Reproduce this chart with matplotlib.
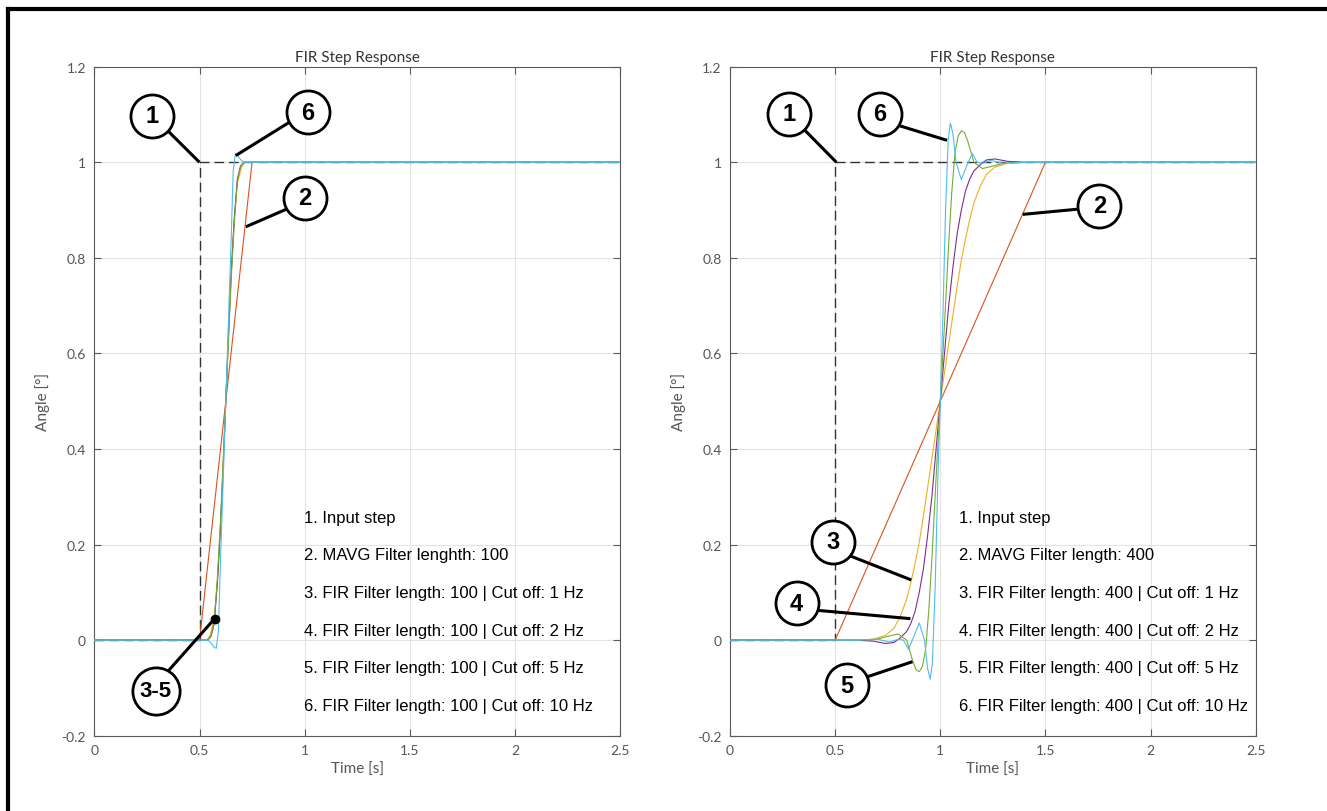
import matplotlib
matplotlib.use("Agg")
import matplotlib.pyplot as plt
from matplotlib.lines import Line2D

# ---- data ----
step_t = [0, 0.5, 0.5, 2.5]
step_y = [0, 0, 1, 1]

# left panel: filter length 100
mavg100_t = [0, 0.5, 0.75, 2.5]
mavg100_y = [0, 0, 1, 1]
fir100_1hz_t = [0, 0.5, 0.535, 0.55, 0.57, 0.585, 0.6, 0.61, 0.625, 0.64, 0.65, 0.665, 0.68, 0.7, 0.715, 2.5]
fir100_1hz_y = [0, 0, 0.0, 0.01, 0.045, 0.12, 0.23, 0.33, 0.5, 0.67, 0.77, 0.88, 0.955, 0.99, 1.0, 1.0]
fir100_2hz_t = [0, 0.5, 0.54, 0.555, 0.57, 0.585, 0.6, 0.61, 0.625, 0.64, 0.65, 0.665, 0.68, 0.695, 0.71, 2.5]
fir100_2hz_y = [0, 0, 0.0, 0.008, 0.035, 0.12, 0.24, 0.34, 0.5, 0.66, 0.76, 0.88, 0.965, 0.992, 1.0, 1.0]
fir100_5hz_t = [0, 0.5, 0.54, 0.555, 0.57, 0.585, 0.6, 0.61, 0.625, 0.64, 0.65, 0.665, 0.68, 0.695, 0.71, 2.5]
fir100_5hz_y = [0, 0, 0.0, 0.01, 0.04, 0.13, 0.25, 0.35, 0.5, 0.65, 0.75, 0.87, 0.96, 0.99, 1.0, 1.0]
fir100_10hz_t = [0, 0.5, 0.54, 0.555, 0.57, 0.58, 0.59, 0.6, 0.61, 0.625, 0.64, 0.65, 0.66, 0.67, 0.68, 0.695, 0.71, 2.5]
fir100_10hz_y = [0, 0, 0.0, -0.006, -0.015, -0.017, 0.02, 0.17, 0.3, 0.5, 0.7, 0.83, 0.98, 1.017, 1.015, 1.006, 1.0, 1.0]

# right panel: filter length 400
mavg400_t = [0, 0.5, 1.5, 2.5]
mavg400_y = [0, 0, 1, 1]
fir400_1hz_t = [0, 0.6, 0.68, 0.74, 0.78, 0.81, 0.84, 0.86, 0.88, 0.9, 0.92, 0.94, 0.96, 0.98, 1.0,
                1.02, 1.04, 1.06, 1.08, 1.1, 1.12, 1.14, 1.16, 1.19, 1.22, 1.26, 1.32, 1.4, 2.5]
fir400_1hz_y = [0, 0, 0.002, 0.01, 0.025, 0.05, 0.085, 0.12, 0.16, 0.205, 0.26, 0.32, 0.38, 0.44, 0.5,
                0.56, 0.62, 0.68, 0.74, 0.795, 0.84, 0.88, 0.915, 0.95, 0.975, 0.99, 0.998, 1.0, 1.0]
fir400_2hz_t = [0, 0.6, 0.68, 0.74, 0.78, 0.81, 0.84, 0.86, 0.88, 0.9, 0.92, 0.94, 0.96, 0.98, 1.0,
                1.02, 1.04, 1.06, 1.08, 1.1, 1.12, 1.14, 1.16, 1.19, 1.22, 1.26, 1.32, 1.4, 2.5]
fir400_2hz_y = [0, 0, -0.002, -0.007, -0.005, 0.005, 0.018, 0.035, 0.06, 0.1, 0.15, 0.22, 0.3, 0.4, 0.5,
                0.6, 0.7, 0.78, 0.85, 0.9, 0.94, 0.965, 0.982, 0.995, 1.005, 1.007, 1.002, 1.0, 1.0]
fir400_5hz_t = [0, 0.6, 0.7, 0.75, 0.8, 0.84, 0.87, 0.885, 0.9, 0.915, 0.93, 0.945, 0.96, 0.98, 1.0,
                1.02, 1.04, 1.055, 1.07, 1.085, 1.1, 1.115, 1.13, 1.16, 1.2, 1.25, 1.3, 1.4, 2.5]
fir400_5hz_y = [0, 0, 0.002, 0.008, 0.013, 0.0, -0.045, -0.062, -0.066, -0.055, -0.02, 0.06, 0.17, 0.34, 0.5,
                0.66, 0.83, 0.94, 1.02, 1.055, 1.066, 1.062, 1.045, 1.0, 0.987, 0.992, 0.998, 1.0, 1.0]
fir400_10hz_t = [0, 0.6, 0.7, 0.76, 0.8, 0.825, 0.848, 0.872, 0.9, 0.925, 0.94, 0.952, 0.962, 0.975, 0.988, 1.0,
                 1.012, 1.025, 1.038, 1.048, 1.06, 1.075, 1.1, 1.128, 1.152, 1.175, 1.2, 1.24, 1.3, 1.4, 2.5]
fir400_10hz_y = [0, 0, 0.002, -0.004, 0.002, 0.0, -0.019, 0.005, 0.036, 0.0, -0.06, -0.082, -0.05, 0.1, 0.33, 0.5,
                 0.67, 0.9, 1.05, 1.082, 1.06, 1.0, 0.964, 0.995, 1.019, 1.0, 0.998, 1.004, 0.998, 1.0, 1.0]

notes_100 = ["1. Input step", "2. MAVG Filter lenghth: 100",
             "3. FIR Filter length: 100 | Cut off: 1 Hz", "4. FIR Filter length: 100 | Cut off: 2 Hz",
             "5. FIR Filter length: 100 | Cut off: 5 Hz", "6. FIR Filter length: 100 | Cut off: 10 Hz"]
notes_400 = ["1. Input step", "2. MAVG Filter length: 400",
             "3. FIR Filter length: 400 | Cut off: 1 Hz", "4. FIR Filter length: 400 | Cut off: 2 Hz",
             "5. FIR Filter length: 400 | Cut off: 5 Hz", "6. FIR Filter length: 400 | Cut off: 10 Hz"]

C_ORANGE = "#D95319"
C_YELLOW = "#EDB120"
C_PURPLE = "#7E2F8E"
C_GREEN = "#77AC30"
C_CYAN = "#4DBEEE"
GREY = "#555555"

plt.rcParams["font.family"] = ["Lato", "DejaVu Sans"]

fig = plt.figure(figsize=(13.27, 8.12), dpi=100)
ax1 = fig.add_axes([0.0711, 0.0927, 0.3962, 0.8239])
ax2 = fig.add_axes([0.5501, 0.0927, 0.3962, 0.8239])


def style(ax):
    ax.set_xlim(0, 2.5)
    ax.set_ylim(-0.2, 1.2)
    ax.set_xticks([0, 0.5, 1, 1.5, 2, 2.5])
    ax.set_xticklabels(["0", "0.5", "1", "1.5", "2", "2.5"])
    ax.set_yticks([-0.2, 0, 0.2, 0.4, 0.6, 0.8, 1, 1.2])
    ax.set_yticklabels(["-0.2", "0", "0.2", "0.4", "0.6", "0.8", "1", "1.2"])
    ax.grid(True, color="#e3e3e3", lw=0.8)
    ax.set_axisbelow(True)
    for s in ax.spines.values():
        s.set_color("#5a5a5a")
        s.set_linewidth(0.8)
    ax.tick_params(direction="in", length=5, width=0.8, color="#5a5a5a", top=True, right=True,
                   labelsize=10, labelcolor=GREY, pad=6)
    ax.set_title("FIR Step Response", fontsize=11, color="#333333", pad=4)
    ax.set_xlabel("Time [s]", fontsize=11, color=GREY, labelpad=4)
    ax.set_ylabel("Angle [°]", fontsize=11, color=GREY, labelpad=8)


def curves(ax, mt, my, series):
    ax.plot(step_t, step_y, color="#333333", lw=1.0, dashes=(7, 3.5), zorder=2)
    ax.plot(mt, my, color=C_ORANGE, lw=0.8, zorder=3)
    for (t, y), c in zip(series, [C_YELLOW, C_PURPLE, C_GREEN, C_CYAN]):
        ax.plot(t, y, color=c, lw=0.8, zorder=3)


def callout(ax, cx, cy, label, x0, y0, x1, y1, ms=31, fs=17, dot=False):
    ax.plot([x0, x1], [y0, y1], color="black", lw=2.2, solid_capstyle="butt", zorder=5)
    if dot:
        ax.plot([x1], [y1], "o", color="black", ms=6, zorder=6)
    ax.plot([cx], [cy], "o", ms=ms, mfc="white", mec="black", mew=2.0, zorder=6)
    ax.text(cx, cy, label, ha="center", va="center", fontsize=fs, fontweight="bold",
            family="Liberation Sans", zorder=7)


def notes(ax, x, lines):
    for i, s in enumerate(lines):
        ax.text(x, 0.257 - 0.0786 * i, s, ha="left", va="center", fontsize=12,
                family="Liberation Sans", color="black", zorder=4)


style(ax1)
style(ax2)

curves(ax1, mavg100_t, mavg100_y,
       [(fir100_1hz_t, fir100_1hz_y), (fir100_2hz_t, fir100_2hz_y),
        (fir100_5hz_t, fir100_5hz_y), (fir100_10hz_t, fir100_10hz_y)])
curves(ax2, mavg400_t, mavg400_y,
       [(fir400_1hz_t, fir400_1hz_y), (fir400_2hz_t, fir400_2hz_y),
        (fir400_5hz_t, fir400_5hz_y), (fir400_10hz_t, fir400_10hz_y)])

notes(ax1, 0.996, notes_100)
notes(ax2, 1.088, notes_400)

# left callouts
callout(ax1, 0.275, 1.097, "1", 0.34, 1.07, 0.5, 1.0)
callout(ax1, 1.016, 1.105, "6", 0.95, 1.09, 0.672, 1.014)
callout(ax1, 1.0, 0.926, "2", 0.93, 0.905, 0.72, 0.865)
callout(ax1, 0.292, -0.106, "3-5", 0.33, -0.075, 0.572, 0.045, ms=34, fs=16, dot=True)

# right callouts
callout(ax2, 0.28, 1.102, "1", 0.345, 1.072, 0.506, 1.0)
callout(ax2, 0.712, 1.102, "6", 0.78, 1.08, 1.032, 1.046)
callout(ax2, 1.756, 0.909, "2", 1.68, 0.903, 1.392, 0.891)
callout(ax2, 0.49, 0.206, "3", 0.55, 0.18, 0.862, 0.126)
callout(ax2, 0.317, 0.077, "4", 0.4, 0.063, 0.858, 0.045)
callout(ax2, 0.557, -0.094, "5", 0.63, -0.08, 0.868, -0.045)

# frame lines along top and left edge
fig.add_artist(Line2D([7.5 / 1327, 1], [1 - 9.5 / 812, 1 - 9.5 / 812], color="black", lw=3.0,
                      transform=fig.transFigure))
fig.add_artist(Line2D([7.5 / 1327, 7.5 / 1327], [0, 1 - 9.5 / 812], color="black", lw=3.0,
                      transform=fig.transFigure))

fig.savefig("out.png", dpi=100)
